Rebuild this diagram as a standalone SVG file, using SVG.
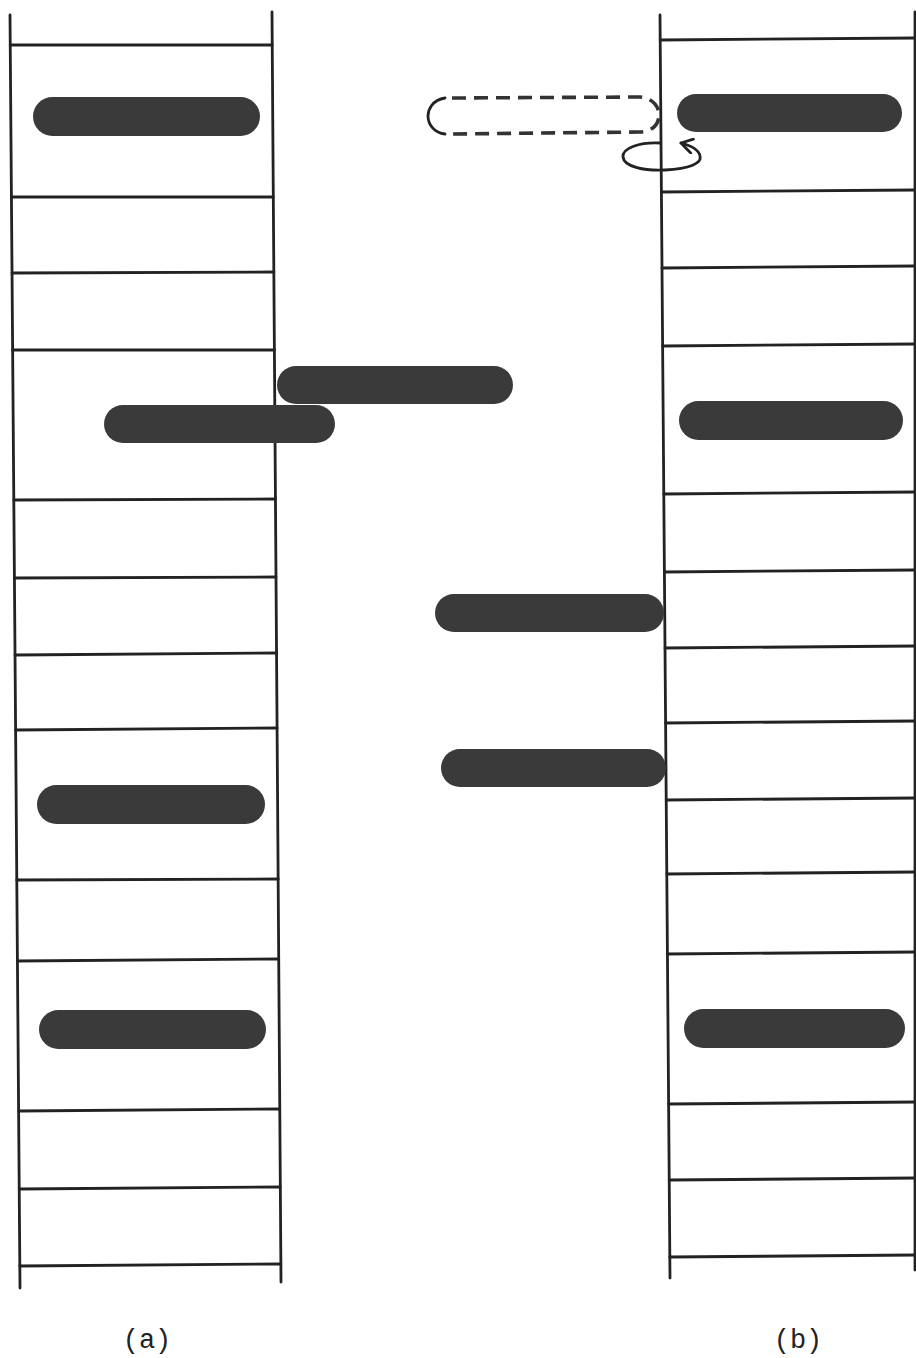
<svg xmlns="http://www.w3.org/2000/svg" width="916" height="1358" viewBox="0 0 916 1358">
<defs>
<style>
.ln{stroke:#222;stroke-width:2.8;fill:none;stroke-linecap:round}
.rod{fill:#3a3a3a}
.dash{stroke:#333;stroke-width:3.6;fill:none;stroke-dasharray:14 8}
.lbl{font-family:"Liberation Mono",monospace;font-size:27px;fill:#222}
</style>
<marker id="ah" viewBox="0 0 16 16" refX="14" refY="8" markerWidth="16" markerHeight="16" markerUnits="userSpaceOnUse" orient="auto">
<path d="M2 1 L14 8 L3 15" fill="none" stroke="#222" stroke-width="2.8" stroke-linecap="round" stroke-linejoin="round"/>
</marker>
</defs>
<rect width="916" height="1358" fill="#fff"/>
<g id="ladder-a">
<line class="ln" x1="10" y1="15" x2="20" y2="1288"/>
<line class="ln" x1="272" y1="12" x2="281" y2="1282"/>
<line class="ln" x1="10.2" y1="45" x2="272.2" y2="45"/>
<line class="ln" x1="11.4" y1="197" x2="273.3" y2="197"/>
<line class="ln" x1="12" y1="273" x2="273.9" y2="272"/>
<line class="ln" x1="12.6" y1="350" x2="274.4" y2="350"/>
<line class="ln" x1="13.8" y1="500" x2="275.5" y2="499"/>
<line class="ln" x1="14.4" y1="578" x2="276" y2="577"/>
<line class="ln" x1="15" y1="655" x2="276.6" y2="653"/>
<line class="ln" x1="15.6" y1="730" x2="277.1" y2="728"/>
<line class="ln" x1="16.8" y1="880" x2="278.2" y2="879"/>
<line class="ln" x1="17.4" y1="961" x2="278.7" y2="959"/>
<line class="ln" x1="18.6" y1="1111" x2="279.8" y2="1109"/>
<line class="ln" x1="19.2" y1="1189" x2="280.3" y2="1187"/>
<line class="ln" x1="19.8" y1="1266" x2="280.9" y2="1264"/>
</g>
<g id="ladder-b">
<line class="ln" x1="660" y1="15" x2="670" y2="1278"/>
<line class="ln" x1="915" y1="12" x2="915" y2="1270"/>
<line class="ln" x1="660.2" y1="40" x2="916" y2="38"/>
<line class="ln" x1="661.4" y1="192" x2="916" y2="190"/>
<line class="ln" x1="662" y1="268" x2="916" y2="266"/>
<line class="ln" x1="662.6" y1="346" x2="916" y2="344"/>
<line class="ln" x1="663.8" y1="494" x2="916" y2="492"/>
<line class="ln" x1="664.4" y1="572" x2="916" y2="570"/>
<line class="ln" x1="665" y1="648" x2="916" y2="646"/>
<line class="ln" x1="665.6" y1="723" x2="916" y2="721"/>
<line class="ln" x1="666.2" y1="800" x2="916" y2="798"/>
<line class="ln" x1="666.8" y1="874" x2="916" y2="872"/>
<line class="ln" x1="667.4" y1="954" x2="916" y2="952"/>
<line class="ln" x1="668.6" y1="1104" x2="916" y2="1102"/>
<line class="ln" x1="669.2" y1="1180" x2="916" y2="1178"/>
<line class="ln" x1="669.8" y1="1257" x2="916" y2="1255"/>
</g>
<g id="rods-a">
<rect class="rod" x="33" y="97" width="227" height="39" rx="19.5"/>
<rect class="rod" x="104" y="405" width="231" height="38" rx="19"/>
<rect class="rod" x="37" y="785" width="228" height="39" rx="19.5"/>
<rect class="rod" x="39" y="1010" width="227" height="39" rx="19.5"/>
</g>
<g id="rod-floating">
<rect class="rod" x="277" y="366" width="236" height="38" rx="19"/>
</g>
<g id="rods-middle">
<rect class="rod" x="435" y="594" width="229" height="38" rx="19"/>
<rect class="rod" x="441" y="749" width="225" height="38" rx="19"/>
</g>
<g id="rods-b">
<rect class="rod" x="677" y="94" width="225" height="38" rx="19"/>
<rect class="rod" x="679" y="401" width="224" height="39" rx="19.5"/>
<rect class="rod" x="684" y="1009" width="221" height="39" rx="19.5"/>
</g>
<g id="ghost-rod">
<path class="ln" d="M445 98 C432 100 428 110 428 116 C428 124 434 133 445 134" stroke-width="3.2"/>
<path class="dash" d="M452 98 L640 97 C652 98 659 106 659 115 C659 124 652 132 640 132 L452 134"/>
</g>
<g id="connectors">
<path class="ln" d="M660 143 C640 142 622 148 623 157 C624 167 645 171 665 170 C690 169 702 163 700 156 C699 150 692 146 681 143" marker-end="url(#ah)"/>
</g>
<g id="labels">
<text class="lbl" x="147" y="1348" text-anchor="middle">(a)</text>
<text class="lbl" x="798" y="1348" text-anchor="middle">(b)</text>
</g>
</svg>
